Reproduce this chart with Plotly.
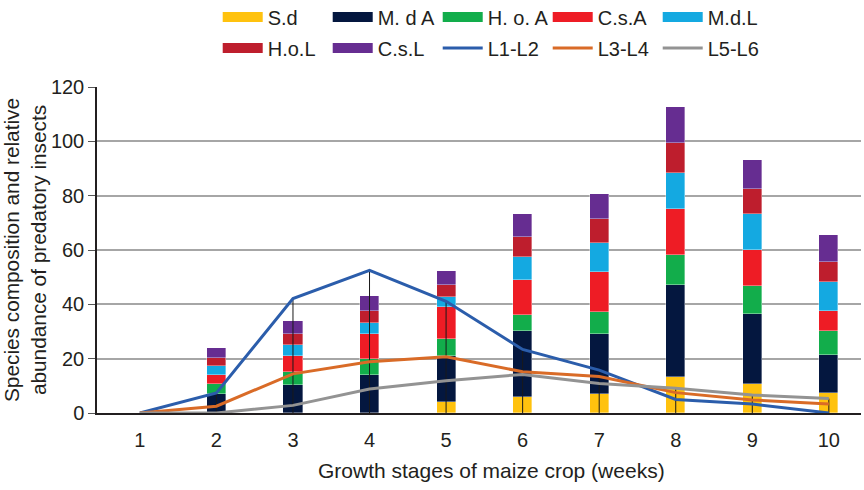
import plotly.graph_objects as go

weeks = [1, 2, 3, 4, 5, 6, 7, 8, 9, 10]

# stacked bar series (species composition)
sd   = [0, 0, 0, 0, 3.9, 6.0, 7.1, 13.1, 10.8, 7.5]
mda  = [0, 7.1, 10.2, 14.1, 17.1, 24.3, 22.0, 34.1, 25.5, 14.0]
hoa  = [0, 3.6, 4.9, 5.7, 6.2, 5.9, 8.1, 10.8, 10.3, 8.7]
csa  = [0, 3.2, 6.0, 9.4, 11.9, 12.8, 14.6, 17.1, 13.4, 7.3]
mdl  = [0, 3.4, 4.0, 4.0, 3.7, 8.4, 10.9, 13.3, 13.4, 10.7]
hol  = [0, 3.1, 4.1, 4.3, 4.4, 7.5, 8.6, 11.0, 9.0, 7.5]
csl  = [0, 3.5, 4.5, 5.5, 5.1, 8.3, 9.3, 13.3, 10.7, 9.7]

# line series
l1l2 = [0, 7.4, 42.1, 52.5, 41.1, 23.4, 15.8, 5.0, 3.3, 0]
l3l4 = [0, 2.5, 14.4, 18.9, 20.7, 15.2, 13.4, 7.5, 4.8, 3.3]
l5l6 = [0, 0, 2.8, 8.8, 11.9, 14.2, 10.9, 9.1, 6.6, 5.3]

bar_names = ["S.d", "M. d A", "H. o. A", "C.s.A", "M.d.L", "H.o.L", "C.s.L"]
bar_vals = [sd, mda, hoa, csa, mdl, hol, csl]
bar_cols = ["#FFC20E", "#04173F", "#12AD4B", "#EE1C25", "#14A9E1", "#BE1E2D", "#662D91"]
bar_legend = ["legend", "legend", "legend", "legend", "legend", "legend2", "legend2"]

line_names = ["L1-L2", "L3-L4", "L5-L6"]
line_vals = [l1l2, l3l4, l5l6]
line_cols = ["#2B5DAB", "#D96B27", "#939393"]

x_title = "Growth stages of maize crop (weeks)"
y_title = "Species composition and relative<br>abundance of predatory insects"

FONT = "Liberation Sans, Arial, sans-serif"

fig = go.Figure()

for name, vals, col in zip(bar_names, bar_vals, bar_cols):
    fig.add_trace(go.Bar(
        x=weeks, y=vals, name=name,
        marker=dict(color=col, line=dict(color="rgba(255,255,255,0.6)", width=0.6)),
        width=0.25, showlegend=False, legendgroup=name))

# legend-only entries with wide block symbols
for name, col, lg in zip(bar_names, bar_cols, bar_legend):
    fig.add_trace(go.Scatter(
        x=[None], y=[None], mode="lines", name=name, legendgroup=name,
        line=dict(color=col, width=12), legend=lg))

# drop lines from highest line point to axis
dx, dy = [], []
for i, w in enumerate(weeks):
    top = max(l1l2[i], l3l4[i], l5l6[i])
    dx += [w, w, None]
    dy += [0, top, None]
fig.add_trace(go.Scatter(x=dx, y=dy, mode="lines", line=dict(color="#1a1a1a", width=1),
                         showlegend=False, hoverinfo="skip"))

for name, vals, col in zip(line_names, line_vals, line_cols):
    fig.add_trace(go.Scatter(x=weeks, y=vals, name=name, mode="lines",
                             line=dict(color=col, width=3), legend="legend2"))

leg_common = dict(orientation="h", x=0.158, xanchor="left", yanchor="middle",
                  entrywidth=55, entrywidthmode="pixels",
                  font=dict(family=FONT, size=20, color="#231F20"),
                  traceorder="normal", bgcolor="rgba(0,0,0,0)", itemwidth=40)

fig.update_layout(
    width=864, height=490,
    paper_bgcolor="white", plot_bgcolor="white",
    margin=dict(l=97, r=3, t=87, b=77, autoexpand=False),
    barmode="stack",
    bargap=0,
    font=dict(family=FONT, size=20, color="#231F20"),
    xaxis=dict(range=[0.44, 10.42], tickvals=weeks, ticktext=[str(w) for w in weeks],
               showgrid=False, showline=True, linecolor="#231F20", linewidth=1.5,
               ticks="", tickfont=dict(size=20), zeroline=False, ticklabelstandoff=8),
    yaxis=dict(range=[0, 120], tickvals=[0, 20, 40, 60, 80, 100, 120],
               showgrid=True, gridcolor="#A6A6A6", gridwidth=1.5,
               showline=True, linecolor="#231F20", linewidth=1.5,
               ticks="outside", ticklen=7, tickcolor="#555555", tickwidth=1,
               tickfont=dict(size=20), zeroline=False,
               title=dict(text=y_title, font=dict(size=20.8), standoff=11)),
    legend=dict(y=1.2147, **leg_common),
    legend2=dict(y=1.12, **leg_common),
    annotations=[dict(text=x_title, xref="paper", yref="paper", x=0.517, y=-0.175,
                      xanchor="center", yanchor="middle", showarrow=False,
                      font=dict(family=FONT, size=21, color="#231F20"))],
)

fig.write_html("out.html", config={"displayModeBar": False},
               post_script="document.body.style.margin='0';")
